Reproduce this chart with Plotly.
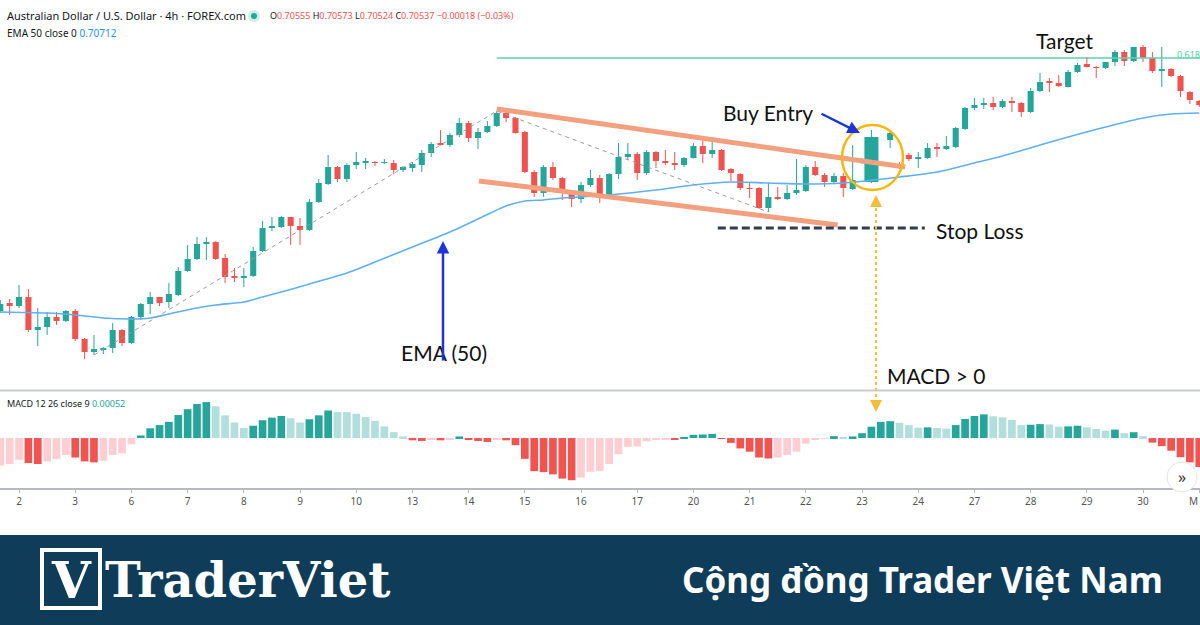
import plotly.graph_objects as go

W, H = 1200, 625

# ---------------- data (AUD/USD 4h candles) ----------------
open_ = [0.7089, 0.7097, 0.7094, 0.7103, 0.7070, 0.7073, 0.7083, 0.7079, 0.7089, 0.7061,
         0.7048, 0.70505, 0.7052, 0.7070, 0.7057, 0.7083, 0.7096, 0.7103, 0.7098, 0.7105,
         0.7129, 0.7141, 0.7156, 0.7158, 0.7142, 0.7124, 0.71225, 0.7124, 0.7149, 0.7172,
         0.7173, 0.7183, 0.7174, 0.7170, 0.7198, 0.7216, 0.7233, 0.7221, 0.7235, 0.72375,
         0.7238, 0.7237, 0.7237, 0.7230, 0.7232, 0.7235, 0.7247, 0.7257, 0.7255, 0.7265,
         0.7277, 0.7262, 0.7268, 0.7274, 0.7287, 0.7282, 0.7268, 0.7228, 0.7207, 0.7233,
         0.7222, 0.7206, 0.7201, 0.7215, 0.7222, 0.7203, 0.7226, 0.7243, 0.7246, 0.7227,
         0.7248, 0.7239, 0.7237, 0.7235, 0.7242, 0.7254, 0.7246, 0.7250, 0.7231, 0.7226,
         0.7212, 0.7212, 0.7192, 0.7203, 0.7201, 0.7207, 0.7209, 0.7233, 0.7225, 0.7218,
         0.7224, 0.7211, 0.7237, 0.7218, 0.7238, 0.7260, 0.7236, 0.7245, 0.7241, 0.7242,
         0.7253, 0.7251, 0.7253, 0.7271, 0.7292, 0.7295, 0.7297, 0.7293, 0.7299, 0.7297,
         0.7288, 0.7309, 0.7319, 0.7317, 0.7313, 0.7328, 0.7336, 0.7333, 0.7332, 0.7338,
         0.7348, 0.7339, 0.7353, 0.7342, 0.7329, 0.7331, 0.7324, 0.7308, 0.7299]
high = [0.7100, 0.7101, 0.7115, 0.7111, 0.7092, 0.7088, 0.7088, 0.7090, 0.7091, 0.7062,
        0.7065, 0.7053, 0.7077, 0.7071, 0.7084, 0.7097, 0.7108, 0.7103, 0.7117, 0.7133,
        0.7155, 0.7163, 0.7163, 0.7159, 0.7146, 0.7132, 0.7132, 0.7153, 0.7179, 0.7183,
        0.7184, 0.7183, 0.7182, 0.7201, 0.7221, 0.7245, 0.7234, 0.7237, 0.7248, 0.7242,
        0.7239, 0.7241, 0.7240, 0.7234, 0.7238, 0.7250, 0.7258, 0.7270, 0.7267, 0.7282,
        0.7279, 0.7272, 0.7279, 0.7289, 0.7288, 0.7283, 0.7269, 0.7230, 0.7235, 0.7238,
        0.7223, 0.7210, 0.7218, 0.7230, 0.7225, 0.7227, 0.7257, 0.7257, 0.7248, 0.7250,
        0.7249, 0.7250, 0.7248, 0.7243, 0.7257, 0.7260, 0.7260, 0.7251, 0.7232, 0.7227,
        0.7218, 0.7213, 0.7217, 0.7213, 0.7215, 0.7241, 0.7235, 0.7239, 0.7227, 0.7227,
        0.7227, 0.7255, 0.7242, 0.7270, 0.7239, 0.7270, 0.7238, 0.7247, 0.7248, 0.7257,
        0.7257, 0.7264, 0.7273, 0.7293, 0.7302, 0.7302, 0.7303, 0.7301, 0.7303, 0.7298,
        0.7312, 0.7327, 0.7322, 0.7325, 0.7330, 0.7337, 0.7343, 0.7334, 0.7338, 0.7350,
        0.7350, 0.7353, 0.7355, 0.7348, 0.7353, 0.7332, 0.7325, 0.7309, 0.7300]
low = [0.7087, 0.7085, 0.7092, 0.7068, 0.7054, 0.7065, 0.7075, 0.7078, 0.7059, 0.7041,
       0.7045, 0.7046, 0.7047, 0.7054, 0.7056, 0.7080, 0.7086, 0.7094, 0.7092, 0.7104,
       0.7128, 0.7140, 0.7140, 0.7140, 0.7117, 0.7118, 0.7113, 0.7123, 0.7148, 0.7169,
       0.7172, 0.7155, 0.7155, 0.7169, 0.7197, 0.7215, 0.7218, 0.7218, 0.7231, 0.7231,
       0.7234, 0.7236, 0.7226, 0.7228, 0.7228, 0.7228, 0.7243, 0.72545, 0.7253, 0.7263,
       0.7258, 0.7251, 0.7267, 0.7273, 0.7278, 0.72665, 0.7227, 0.7203, 0.7203, 0.7220,
       0.7200, 0.7193, 0.7197, 0.7213, 0.7197, 0.7202, 0.7221, 0.7240, 0.7220, 0.7225,
       0.7232, 0.7235, 0.7230, 0.7233, 0.72415, 0.7237, 0.7242, 0.7229, 0.7219, 0.7210,
       0.7202, 0.7191, 0.7188, 0.7200, 0.7200, 0.7205, 0.7208, 0.7224, 0.7213, 0.7217,
       0.7203, 0.7210, 0.7236, 0.7217, 0.7234, 0.7252, 0.7231, 0.7239, 0.7232, 0.7241,
       0.7243, 0.7250, 0.7252, 0.7270, 0.7290, 0.7291, 0.7290, 0.7292, 0.7288, 0.7283,
       0.7287, 0.7308, 0.7308, 0.7313, 0.73125, 0.7327, 0.73325, 0.7322, 0.7331, 0.7334,
       0.7334, 0.7338, 0.7338, 0.7327, 0.7313, 0.7323, 0.7303, 0.7296, 0.7293]
close = [0.7096, 0.7094, 0.7103, 0.7070, 0.7073, 0.7083, 0.7079, 0.7089, 0.7061, 0.7048,
         0.7051, 0.7052, 0.7070, 0.7057, 0.7083, 0.7096, 0.7103, 0.7097, 0.7106, 0.7129,
         0.7141, 0.7156, 0.7158, 0.7141, 0.7123, 0.7122, 0.7124, 0.7149, 0.7172, 0.7174,
         0.7183, 0.7174, 0.7170, 0.7198, 0.7217, 0.7233, 0.7221, 0.7235, 0.7238, 0.7238,
         0.7237, 0.7238, 0.7230, 0.7233, 0.7236, 0.7247, 0.7256, 0.7255, 0.7265, 0.7277,
         0.7262, 0.7268, 0.7274, 0.7287, 0.7282, 0.7267, 0.7228, 0.7207, 0.7233, 0.7222,
         0.7207, 0.7201, 0.7215, 0.7222, 0.7202, 0.7226, 0.7243, 0.7246, 0.7227, 0.7248,
         0.7239, 0.7237, 0.7235, 0.7242, 0.7254, 0.7246, 0.7250, 0.7230, 0.7227, 0.7212,
         0.7211, 0.7192, 0.7203, 0.7201, 0.7207, 0.7210, 0.7233, 0.7225, 0.7218, 0.7224,
         0.7212, 0.7220, 0.7241, 0.7263, 0.7235, 0.7267, 0.7233, 0.7241, 0.7243, 0.7252,
         0.7251, 0.7254, 0.7272, 0.7292, 0.7295, 0.7297, 0.7293, 0.7299, 0.7297, 0.7288,
         0.7309, 0.7318, 0.7317, 0.7314, 0.7328, 0.7335, 0.7333, 0.7332, 0.7338, 0.7348,
         0.7339, 0.7353, 0.7342, 0.7329, 0.7331, 0.7324, 0.7309, 0.7300, 0.7295]

# EMA(50) read at selected bars
ema_idx = [0, 5, 8, 11, 14, 16, 18, 21, 23, 26, 28, 30, 33, 37, 40, 44, 48, 51, 54, 56,
           58, 60, 65, 70, 74, 78, 82, 86, 90, 96, 100, 104, 107, 111, 114, 118, 122, 125, 128]
ema_val = [0.7088, 0.7087, 0.7085, 0.7082, 0.7081, 0.7082, 0.7086, 0.7092, 0.7095, 0.7098,
           0.7103, 0.7108, 0.7116, 0.7127, 0.7138, 0.7153, 0.7168, 0.7181, 0.7194, 0.7199,
           0.7200, 0.7202, 0.7205, 0.7210, 0.7215, 0.7218, 0.7217, 0.7216, 0.7217, 0.7223,
           0.7228, 0.7237, 0.7244, 0.7255, 0.7263, 0.7273, 0.7282, 0.7286, 0.7287]

# MACD(12,26,9) histogram
macd_hist = [-0.00085, -0.00080, -0.00067, -0.00077, -0.00080, -0.00072, -0.00065, -0.00052, -0.00060, -0.00072,
             -0.00075, -0.00070, -0.00052, -0.00047, -0.00019, 0.00008, 0.00030, 0.00040, 0.00050, 0.00071,
             0.00089, 0.00105, 0.00111, 0.00098, 0.00070, 0.00048, 0.00031, 0.00038, 0.00055, 0.00063,
             0.00068, 0.00061, 0.00048, 0.00058, 0.00070, 0.00085, 0.00080, 0.00080, 0.00075, 0.00065,
             0.00053, 0.00036, 0.00018, 0.00005, -0.00007, -0.00009, -0.00004, -0.00007, -0.00003, 0.00005,
             -0.00005, -0.00009, -0.00012, -0.00004, -0.00007, -0.00022, -0.00064, -0.00102, -0.00105, -0.00112,
             -0.00125, -0.00130, -0.00122, -0.00104, -0.00102, -0.00080, -0.00050, -0.00027, -0.00026, -0.00010,
             -0.00004, -0.00003, -0.00005, 0.00002, 0.00010, 0.00011, 0.00013, -0.00002, -0.00015, -0.00032,
             -0.00042, -0.00060, -0.00063, -0.00060, -0.00052, -0.00042, -0.00017, -0.00005, -0.00002, 0.00006,
             0.00002, 0.00005, 0.00015, 0.00035, 0.00050, 0.00052, 0.00047, 0.00040, 0.00032, 0.00033,
             0.00031, 0.00029, 0.00040, 0.00059, 0.00068, 0.00073, 0.00067, 0.00064, 0.00056, 0.00040,
             0.00041, 0.00043, 0.00042, 0.00035, 0.00036, 0.00038, 0.00033, 0.00028, 0.00023, 0.00026,
             0.00015, 0.00018, 0.00006, -0.00014, -0.00025, -0.00039, -0.00059, -0.00075, -0.00089]

tick_idx = list(range(2, 129, 6))
tick_text = ['2', '3', '6', '7', '8', '9', '10', '13', '14', '15', '16', '17',
             '20', '21', '22', '23', '24', '27', '28', '29', '30', 'M']

# drawings (bar index, price)
zigzag_x = [10, 53, 82]
channel_upper = ([53.0, 96.6], [0.7291, 0.7233])
channel_lower = ([51.1, 89.4], [0.7219, 0.7175])
stop_loss = ([76.6, 98.7], 0.7172)
target_level = 0.7342
target_start = 53
entry_bar = 93

# ---------------- styling ----------------
UP, DN = '#26a69a', '#ef5350'
X0, X1 = -0.032, 128.08
FONT = 'Lato, sans-serif'
UI_FONT = 'Noto Sans, sans-serif'


def px(x):
    return x / W


def py(y):
    return 1 - y / H


n = len(close)
idx = list(range(n))
fig = go.Figure()

# wicks
for col, is_up in ((UP, True), (DN, False)):
    wx, wy = [], []
    for i in idx:
        if (close[i] >= open_[i]) == is_up:
            wx += [i, i, None]
            wy += [low[i], high[i], None]
    fig.add_trace(go.Scatter(x=wx, y=wy, mode='lines', line=dict(color=col, width=1),
                             hoverinfo='skip', xaxis='x', yaxis='y'))

# bodies
base = [min(o, c) for o, c in zip(open_, close)]
body = [max(abs(c - o), 0.0001) for o, c in zip(open_, close)]
bcol = [UP if c >= o else DN for o, c in zip(open_, close)]
bw = [0.65] * n
bw[entry_bar] = 1.5
fig.add_trace(go.Bar(x=idx, y=body, base=base, width=bw, marker=dict(color=bcol, line=dict(width=0)),
                     xaxis='x', yaxis='y', hoverinfo='skip'))

# EMA
fig.add_trace(go.Scatter(x=ema_idx, y=ema_val, mode='lines', line=dict(color='#5fb0f2', width=1.6, shape='spline', smoothing=0.8),
                         xaxis='x', yaxis='y', hoverinfo='skip'))

# zigzag dashed
zz_y = [low[zigzag_x[0]], high[zigzag_x[1]], low[zigzag_x[2]]]
fig.add_trace(go.Scatter(x=zigzag_x, y=zz_y, mode='lines', line=dict(color='#9a9a9a', width=1, dash='4px,4px'),
                         xaxis='x', yaxis='y', hoverinfo='skip'))

# target line
fig.add_trace(go.Scatter(x=[target_start, X1], y=[target_level, target_level], mode='lines',
                         line=dict(color='#5dd3ab', width=1.5), xaxis='x', yaxis='y', hoverinfo='skip'))

# channel lines
for cx, cy in (channel_upper, channel_lower):
    fig.add_trace(go.Scatter(x=cx, y=cy, mode='lines', line=dict(color='#f3a07f', width=5),
                             xaxis='x', yaxis='y', hoverinfo='skip'))

# stop loss dashed
fig.add_trace(go.Scatter(x=stop_loss[0], y=[stop_loss[1]] * 2, mode='lines',
                         line=dict(color='#333d4c', width=3, dash='8px,4px'), xaxis='x', yaxis='y', hoverinfo='skip'))

# MACD histogram
mcol = []
for i, h in enumerate(macd_hist):
    p = macd_hist[i - 1] if i > 0 else h
    if h >= 0:
        mcol.append('#26a69a' if h > p else '#b2dfdb')
    else:
        mcol.append('#f05350' if h < p else '#ffcdd2')
fig.add_trace(go.Bar(x=idx, y=macd_hist, width=0.82, marker=dict(color=mcol, line=dict(width=0)),
                     xaxis='x', yaxis='y2', hoverinfo='skip'))

shapes = [
    # pane separator
    dict(type='line', xref='paper', yref='paper', x0=0, x1=1, y0=py(390.5), y1=py(390.5),
         line=dict(color='#c9ccd3', width=2)),
    # entry circle
    dict(type='circle', xref='paper', yref='paper', x0=px(842), x1=px(903), y0=py(190), y1=py(125),
         line=dict(color='#f5b70f', width=2.5)),
    # yellow dotted connector
    dict(type='line', xref='paper', yref='paper', x0=px(876), x1=px(876), y0=py(202), y1=py(404),
         line=dict(color='#f2bd3a', width=2, dash='dot')),
    # header dot
    dict(type='circle', xref='paper', yref='paper', x0=px(248), x1=px(260), y0=py(22), y1=py(10),
         fillcolor='#cdeee9', line=dict(width=0)),
    dict(type='circle', xref='paper', yref='paper', x0=px(251), x1=px(257), y0=py(19), y1=py(13),
         fillcolor='#26a69a', line=dict(width=0)),
    # scroll button
    dict(type='circle', xref='paper', yref='paper', x0=px(1167), x1=px(1197), y0=py(492), y1=py(462),
         fillcolor='white', line=dict(color='#e3e5ea', width=1)),
    # banner
    dict(type='rect', xref='paper', yref='paper', x0=0, x1=1, y0=0, y1=py(535),
         fillcolor='#0f3d59', line=dict(width=0)),
    dict(type='rect', xref='paper', yref='paper', x0=px(42), x1=px(100), y0=py(608), y1=py(550),
         line=dict(color='white', width=4)),
]

ann = []


def text(x, y, s, size=21, color='#111111', xa='center', family=FONT, **kw):
    ann.append(dict(x=px(x), y=py(y), xref='paper', yref='paper', text=s, showarrow=False,
                    xanchor=xa, yanchor='middle', font=dict(size=size, color=color, family=family), **kw))


text(5, 16, 'Australian Dollar / U.S. Dollar · 4h · FOREX.com', size=11, color='#131722', xa='left', family=UI_FONT)
r = "<span style='color:#ef5350'>"
text(268, 16, f"O{r}0.70555</span> H{r}0.70573</span> L{r}0.70524</span> C{r}0.70537</span> {r}−0.00018 (−0.03%)</span>",
     size=9, color='#131722', xa='left', family=UI_FONT)
text(5, 33, "EMA 50 close 0 <span style='color:#2196f3'>0.70712</span>", size=10, color='#131722', xa='left', family=UI_FONT)
text(5, 403, "MACD 12 26 close 9 <span style='color:#26a69a'>0.00052</span>", size=9, color='#131722', xa='left', family=UI_FONT)
text(1175, 54, '0.618', size=9, color='#4fcf9f', xa='left', family=UI_FONT)
text(1182, 477, '»', size=16, color='#333333', family=UI_FONT)
# last (month) tick label, kept inside the right edge
text(1200, 501, tick_text[-1], size=10, color='#555555', xa='right', family=UI_FONT)

text(1065, 41, 'Target')
text(768, 113, 'Buy Entry')
text(934, 230, 'Stop Loss', xa='left')
text(444, 352, 'EMA (50)')
text(936, 375, 'MACD &gt; 0')

# arrows
ann.append(dict(x=px(860), y=py(133), xref='paper', yref='paper', ax=-40, ay=-20, text='', showarrow=True,
                arrowhead=2, arrowsize=1, arrowwidth=2.5, arrowcolor='#1d35d8'))
ann.append(dict(x=px(443), y=py(241), xref='paper', yref='paper', ax=0, ay=121, text='', showarrow=True,
                arrowhead=2, arrowsize=1, arrowwidth=2.5, arrowcolor='#1d35d8'))
ann.append(dict(x=px(876), y=py(195), xref='paper', yref='paper', ax=0, ay=9, text='', showarrow=True,
                arrowhead=2, arrowsize=1.2, arrowwidth=2, arrowcolor='#f2bd3a'))
ann.append(dict(x=px(876), y=py(412), xref='paper', yref='paper', ax=0, ay=-9, text='', showarrow=True,
                arrowhead=2, arrowsize=1.2, arrowwidth=2, arrowcolor='#f2bd3a'))

# banner texts
text(71, 580, '<b>V</b>', size=50, color='white', family='DejaVu Serif, serif')
text(103, 580, '<b>TraderViet</b>', size=48, color='white', xa='left', family='DejaVu Serif, serif')
text(1165, 579, '<b>Cộng đồng Trader Việt Nam</b>', size=35, color='white', xa='right', family='Noto Sans, sans-serif')

fig.update_layout(
    width=W, height=H, margin=dict(l=0, r=0, t=0, b=0),
    paper_bgcolor='white', plot_bgcolor='white', showlegend=False, barmode='overlay',
    xaxis=dict(domain=[0, 1], range=[X0, X1], anchor='y2', showgrid=False, zeroline=False,
               showline=True, linecolor='#b5b8bf', linewidth=2, ticks='outside', ticklen=3,
               tickcolor='#b5b8bf', tickvals=tick_idx, ticktext=tick_text[:-1] + [''],
               tickfont=dict(size=10, color='#555555', family=UI_FONT)),
    yaxis=dict(domain=[py(390), 1], range=[0.7010, 0.7400], visible=False),
    yaxis2=dict(domain=[py(488), py(392)], range=[-0.00154, 0.00142], visible=False),
    shapes=shapes, annotations=ann,
)

fig.write_html('out.html', config={'displayModeBar': False},
               post_script="document.body.style.margin='0';document.body.style.overflow='hidden';")
